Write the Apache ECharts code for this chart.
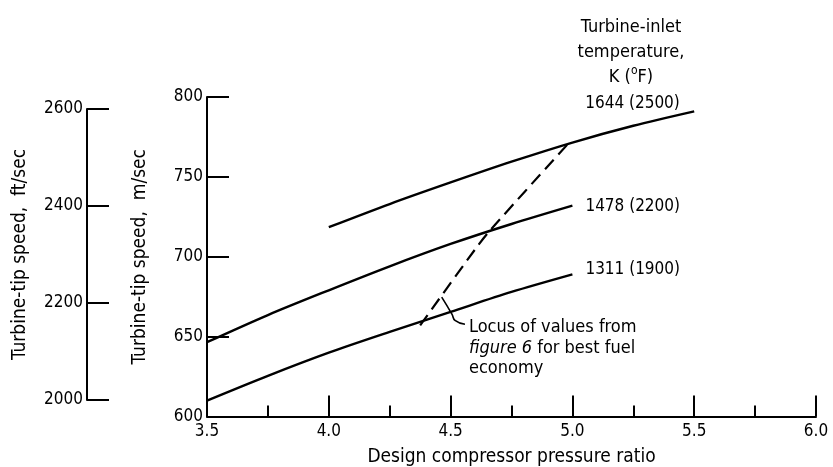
<!DOCTYPE html>
<html>
<head>
<meta charset="utf-8">
<script src="https://cdn.jsdelivr.net/npm/echarts@6/dist/echarts.min.js"></script>
<style>
  html, body { margin: 0; padding: 0; background: #fff; }
  #chart { width: 833px; height: 467px; }
</style>
</head>
<body>
<div id="chart"></div>
<script>
// pressure ratio samples for the two lower curves
const ratioLow = [3.5, 3.75, 4.0, 4.25, 4.5, 4.75, 5.0];
const speed1311 = [610, 625.5, 640, 653, 665.5, 678, 689];
const speed1478 = [646.5, 663.5, 679, 694, 708, 720.5, 732];
// top curve starts at 4.0
const ratio1644 = [4.0, 4.25, 4.5, 4.75, 5.0, 5.25, 5.5];
const speed1644 = [718.5, 733, 746.5, 759.5, 771.5, 782, 791];
// dashed locus (best fuel economy)
const locusRatio = [4.375, 4.6, 4.665, 4.99];
const locusSpeed = [657, 704.5, 717, 772];
// leader from the locus to its note
const leaderRatio = [4.4635, 4.506, 4.518, 4.559];
const leaderSpeed = [674.7, 663.9, 660.2, 657.7];

const xTicks = [3.5, 4.0, 4.5, 5.0, 5.5, 6.0];
const mTicks = [600, 650, 700, 750, 800];
const ftTicks = [2000, 2200, 2400, 2600];

const FONT = "'Liberation Sans Narrow', 'DejaVu Sans Condensed', sans-serif";

function zip(xs, ys) {
    return xs.map((x, i) => [x, ys[i]]);
}

const chart = echarts.init(document.getElementById('chart'));

const lineStyle = { color: '#000', width: 2.4 };
const txt = { color: '#000', fontFamily: FONT, fontSize: 19 };
const num = { color: '#000', fontFamily: FONT, fontSize: 17 };

const option = {
    animation: false,
    backgroundColor: '#fff',
    title: {
        text: 'Turbine-inlet\ntemperature,\nK ({s|o}F)',
        left: 626,
        top: 10,
        textAlign: 'center',
        textStyle: {
            color: '#000', fontFamily: FONT, fontSize: 18, fontWeight: 'normal', lineHeight: 25,
            rich: { s: { fontSize: 12, verticalAlign: 'top', lineHeight: 25, padding: [0, 0, 8, 0], fontFamily: FONT, color: '#000' } }
        }
    },
    grid: [
        { left: 207, right: 17, top: 97, bottom: 50.5, containLabel: false, outerBoundsMode: 'none' },
        { left: 87, width: 1, top: 109, bottom: 67, containLabel: false, outerBoundsMode: 'none' }
    ],
    xAxis: [
        {
            gridIndex: 0, type: 'value',
            min: xTicks[0], max: xTicks[xTicks.length - 1], interval: 0.5,
            name: 'Design compressor pressure ratio',
            nameLocation: 'middle', nameGap: 31,
            nameTextStyle: txt,
            axisLine: { lineStyle: { color: '#000', width: 2 } },
            axisTick: { inside: true, length: 21, lineStyle: { color: '#000', width: 2 } },
            minorTick: { show: true, splitNumber: 2, length: 11, lineStyle: { color: '#000', width: 2 } },
            axisLabel: { ...num, margin: 7, formatter: v => v.toFixed(1) },
            splitLine: { show: false }
        },
        { gridIndex: 1, type: 'value', show: false, min: 0, max: 1 }
    ],
    yAxis: [
        {
            gridIndex: 0, type: 'value',
            min: mTicks[0], max: mTicks[mTicks.length - 1], interval: 50,
            name: 'Turbine-tip speed,  m/sec',
            nameLocation: 'middle', nameGap: 57, nameRotate: 90,
            nameTextStyle: txt,
            axisLine: { show: true, lineStyle: { color: '#000', width: 2 } },
            axisTick: { show: true, inside: true, length: 22, lineStyle: { color: '#000', width: 2 } },
            axisLabel: { ...num, margin: 4, formatter: v => String(v) },
            splitLine: { show: false }
        },
        {
            gridIndex: 1, type: 'value',
            min: ftTicks[0], max: ftTicks[ftTicks.length - 1], interval: 200,
            name: 'Turbine-tip speed,  ft/sec',
            nameLocation: 'middle', nameGap: 57, nameRotate: 90,
            nameTextStyle: txt,
            axisLine: { show: true, lineStyle: { color: '#000', width: 2 } },
            axisTick: { show: true, inside: true, length: 22, lineStyle: { color: '#000', width: 2 } },
            axisLabel: { ...num, margin: 4, formatter: v => String(v) },
            splitLine: { show: false }
        }
    ],
    series: [
        {
            name: '1311 (1900)', type: 'line', smooth: 0.3, showSymbol: false,
            data: zip(ratioLow, speed1311), lineStyle,
            endLabel: { show: true, formatter: '{a}', ...num, offset: [5, -5] }
        },
        {
            name: '1478 (2200)', type: 'line', smooth: 0.3, showSymbol: false,
            data: zip(ratioLow, speed1478), lineStyle,
            endLabel: { show: true, formatter: '{a}', ...num, offset: [5, 1] }
        },
        {
            name: '1644 (2500)', type: 'line', smooth: 0.3, showSymbol: false,
            data: zip(ratio1644, speed1644), lineStyle,
            endLabel: { show: true, formatter: '{a}', ...num, offset: [-117, -8] }
        },
        {
            name: 'locus', type: 'line', smooth: 0.3, showSymbol: false,
            data: zip(locusRatio, locusSpeed),
            lineStyle: { color: '#000', width: 2.2, type: [13, 7] }
        },
        {
            name: 'leader', type: 'line', smooth: 0.5, showSymbol: false,
            data: zip(leaderRatio, leaderSpeed),
            lineStyle: { color: '#000', width: 1.6 },
            endLabel: {
                show: true, ...txt, fontSize: 18, lineHeight: 20.5, offset: [-4, 24],
                formatter: 'Locus of values from\n{it|figure 6} for best fuel\neconomy',
                rich: { it: { fontStyle: 'italic', fontFamily: FONT, fontSize: 18, color: '#000' } }
            }
        }
    ]
};

chart.setOption(option);
</script>
</body>
</html>
